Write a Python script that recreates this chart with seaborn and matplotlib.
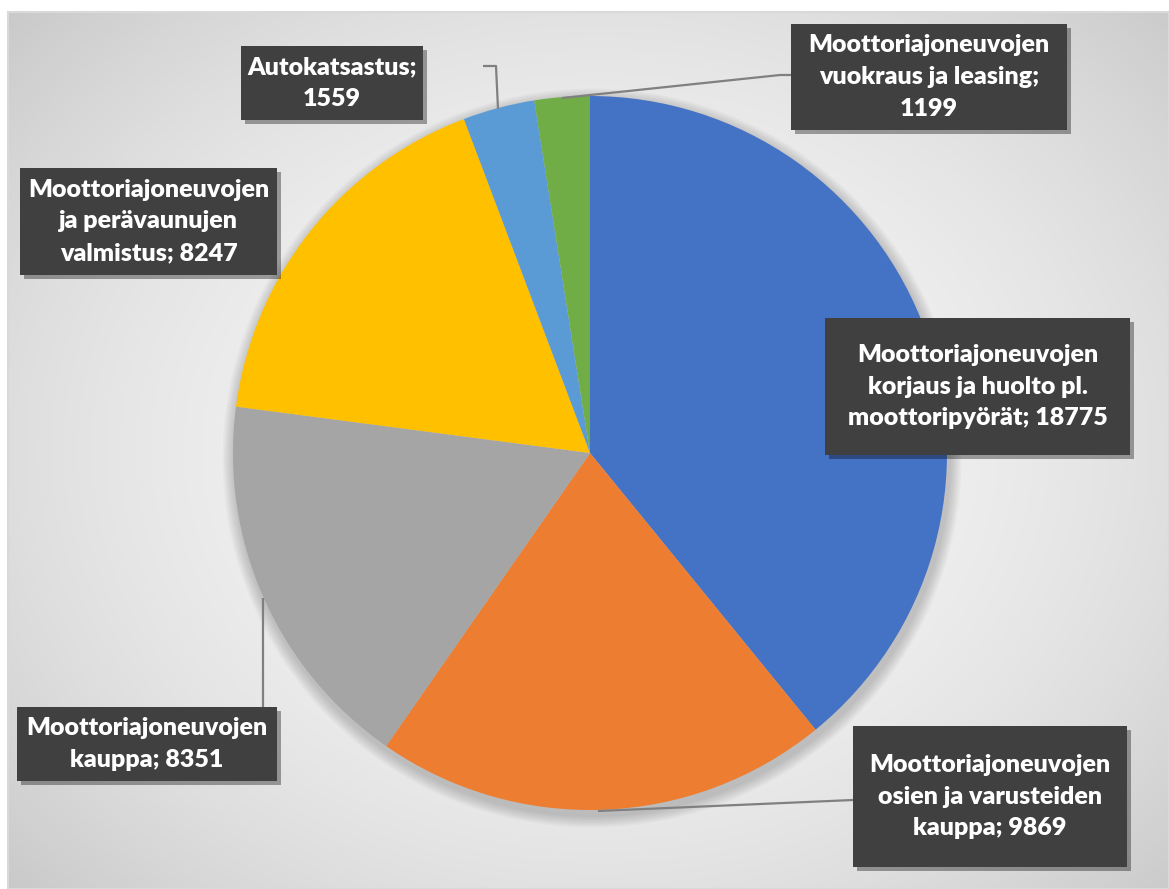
import textwrap
import numpy as np
import matplotlib
matplotlib.use('Agg')
import matplotlib.pyplot as plt
import matplotlib.patheffects as pe
from matplotlib.patches import Rectangle, Circle
import seaborn as sns

# data
categories = ['Moottoriajoneuvojen korjaus ja huolto pl. moottoripyörät',
              'Moottoriajoneuvojen osien ja varusteiden kauppa',
              'Moottoriajoneuvojen kauppa',
              'Moottoriajoneuvojen ja perävaunujen valmistus',
              'Autokatsastus',
              'Moottoriajoneuvojen vuokraus ja leasing']
values = [18775, 9869, 8351, 8247, 1559, 1199]
slice_colors = ['#4472C4', '#ED7D31', '#A5A5A5', '#FFC000', '#5B9BD5', '#70AD47']

W, H = 1169, 889

sns.set_theme(style='white')
plt.rcParams['font.family'] = ['Lato', 'DejaVu Sans']

fig = plt.figure(figsize=(W / 100, H / 100), dpi=100)
fig.patch.set_facecolor('white')
ax = fig.add_axes([0, 0, 1, 1])

# radial gradient background of the chart area
gx0, gx1, gy0, gy1 = 8, W, 0, H - 12
xx, yy = np.meshgrid(np.linspace(gx0, gx1, 300), np.linspace(gy0, gy1, 240))
cx, cy = 600, H - 450
r = np.hypot((xx - cx) / 640, (yy - cy) / 520)
r = np.clip(r / r.max(), 0, 1)
shade = 0.965 - 0.175 * r ** 2
ax.imshow(np.dstack([shade] * 3), extent=[gx0, gx1, gy0, gy1], origin='lower',
          zorder=0, interpolation='bilinear')
ax.add_patch(Rectangle((gx0, gy0), gx1 - gx0, gy1 - gy0, fill=False,
                       ec='#d9d9d9', lw=1.5, zorder=1))

# pie
pie_center = (590, H - 453)
pie_r = 357
for k in range(8):
    ax.add_patch(Circle((pie_center[0] + 2, pie_center[1] - 5), pie_r + 2 + k * 1.5,
                        fc='black', ec='none', alpha=0.025, zorder=2))
wedges, _ = ax.pie(values, colors=sns.color_palette(slice_colors), startangle=90,
                   counterclock=False, center=pie_center, radius=pie_r,
                   wedgeprops=dict(linewidth=0))
for w in wedges:
    w.set_zorder(3)

# label boxes (x0, y0, x1, y1 in image pixels)
boxes = [(825, 318, 1130, 455), (853, 726, 1127, 867), (17, 707, 277, 781),
         (20, 168, 277, 275), (241, 46, 423, 120), (791, 24, 1067, 130)]
wraps = [21, 21, 21, 21, 14, 21]

for name, v, (x0, y0, x1, y1), wd in zip(categories, values, boxes, wraps):
    rect = Rectangle((x0, H - y1), x1 - x0, y1 - y0, fc='#404040', ec='none', zorder=5)
    rect.set_path_effects([pe.SimplePatchShadow(offset=(3, -3), shadow_rgbFace='black',
                                                alpha=0.35), pe.Normal()])
    ax.add_patch(rect)
    txt = textwrap.fill(f'{name}; {v}', width=wd)
    ax.text((x0 + x1) / 2, H - (y0 + y1) / 2, txt, ha='center', va='center',
            color='white', fontsize=18, fontweight='heavy', linespacing=1.55, zorder=6)

# leader lines
leaders = [[(598, 811), (853, 800)],
           [(263, 598), (263, 707)],
           [(483, 66), (496, 66), (498, 109)],
           [(562, 98), (780, 75), (791, 75)]]
for pts in leaders:
    xs = [p[0] for p in pts]
    ys = [H - p[1] for p in pts]
    ax.plot(xs, ys, color='#808080', lw=1.6, zorder=4, solid_capstyle='butt')

ax.set_xlim(0, W)
ax.set_ylim(0, H)
ax.set_aspect('equal')
ax.axis('off')

fig.savefig('out.png', dpi=100, facecolor='white')
